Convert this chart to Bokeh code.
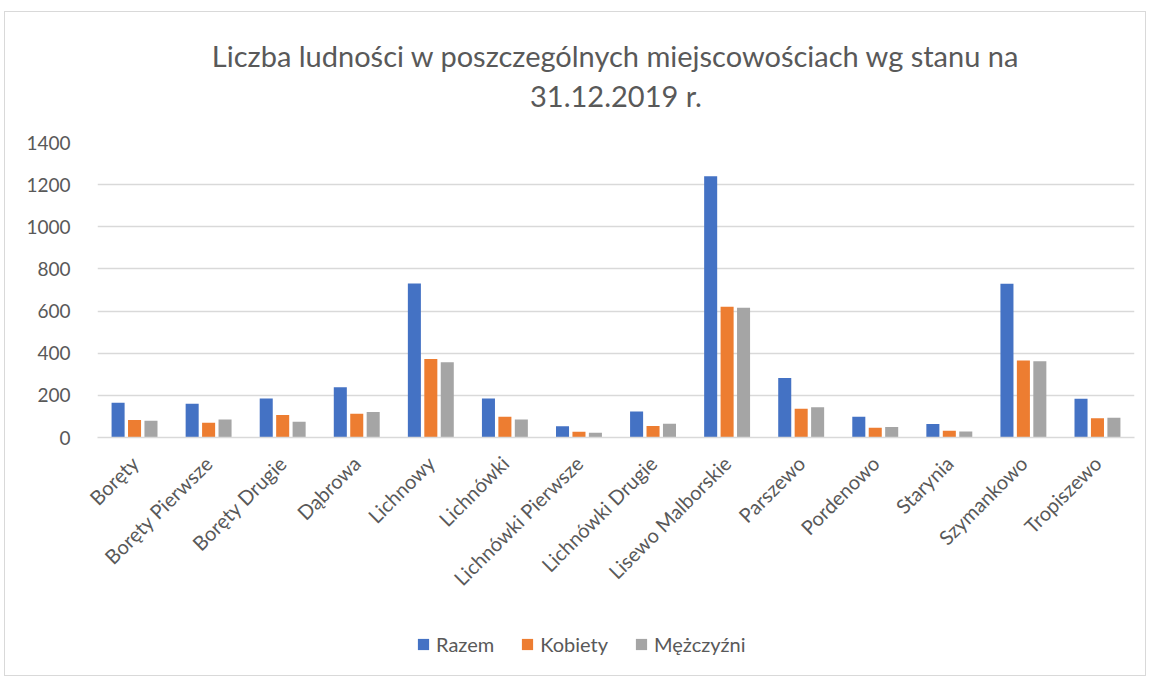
import math
from bokeh.plotting import figure
from bokeh.layouts import column
from bokeh.models import ColumnDataSource, FactorRange, Legend, LegendItem, Range1d, Title
from bokeh.transform import dodge
from bokeh.embed import file_html
from bokeh.resources import INLINE

places = ["Boręty", "Boręty Pierwsze", "Boręty Drugie", "Dąbrowa", "Lichnowy", "Lichnówki",
          "Lichnówki Pierwsze", "Lichnówki Drugie", "Lisewo Malborskie", "Parszewo",
          "Pordenowo", "Starynia", "Szymankowo", "Tropiszewo"]
razem = [165, 160, 185, 238, 731, 185, 53, 123, 1240, 282, 98, 64, 730, 184]
kobiety = [83, 70, 107, 113, 372, 98, 27, 54, 621, 137, 46, 32, 366, 91]
mezczyzni = [80, 85, 75, 121, 357, 85, 22, 65, 616, 144, 50, 29, 362, 94]
series_names = ["Razem", "Kobiety", "Mężczyźni"]
colors = ["#4472C4", "#ED7D31", "#A5A5A5"]
y_ticks = [0, 200, 400, 600, 800, 1000, 1200, 1400]
title_lines = ["Liczba ludności w poszczególnych miejscowościach wg stanu na", "31.12.2019 r."]

src = ColumnDataSource(dict(x=places, razem=razem, kobiety=kobiety, mezczyzni=mezczyzni))
cols = ["razem", "kobiety", "mezczyzni"]
offsets = [-0.222, 0.0, 0.222]

FONT = "Lato"
TXT = "#595959"

p = figure(x_range=FactorRange(*places, range_padding=0), y_range=Range1d(0, 1400),
           frame_width=1035, frame_height=293, output_backend="svg", toolbar_location=None,
           min_border_left=92, min_border_right=13, min_border_top=130, min_border_bottom=240)
p.styles = {"border": "1px solid #d9d9d9", "margin-left": "4px", "margin-top": "11px"}
p.outline_line_color = None

p.title.text = title_lines[0]
p.title.align = "center"
p.title.text_font = FONT
p.title.text_font_style = "normal"
p.title.text_font_size = "29px"
p.title.text_color = TXT
p.title.standoff = -53

t2 = Title(text=title_lines[1], align="center", text_font=FONT, text_font_style="normal",
           text_font_size="29px", text_color=TXT, standoff=59)
p.add_layout(t2, "above")

for col, off, c in zip(cols, offsets, colors):
    p.vbar(x=dodge("x", off, range=p.x_range), top=col, width=0.176, source=src,
           fill_color=c, line_color=None)

p.yaxis.ticker = y_ticks
p.yaxis.axis_line_color = None
p.yaxis.major_tick_line_color = None
p.yaxis.minor_tick_line_color = None
p.yaxis.major_label_text_font = FONT
p.yaxis.major_label_text_font_size = "19px"
p.yaxis.major_label_text_color = TXT
p.yaxis.major_label_standoff = 21

p.xaxis.axis_line_color = "#d9d9d9"
p.xaxis.axis_line_width = 1.5
p.xaxis.major_tick_line_color = None
p.xaxis.minor_tick_line_color = None
p.xaxis.major_label_orientation = math.pi / 4
p.xaxis.major_label_text_font = FONT
p.xaxis.major_label_text_font_size = "20px"
p.xaxis.major_label_text_color = TXT
p.xaxis.major_label_standoff = 16

p.xgrid.grid_line_color = None
p.ygrid.grid_line_color = "#d9d9d9"
p.ygrid.grid_line_width = 1.5

# legend strip: its y range lies far from the data, so only the legend shows
lg = figure(x_range=FactorRange(*places, range_padding=0), y_range=Range1d(5000, 6000),
            width=1142, height=40, output_backend="svg", toolbar_location=None,
            x_axis_location=None, y_axis_location=None, min_border=0)
lg.styles = {"margin-left": "4px", "margin-top": "-52px"}
lg.grid.visible = False
lg.outline_line_color = None
lg.background_fill_alpha = 0
lg.border_fill_alpha = 0
lr = []
for col, off, c in zip(cols, offsets, colors):
    lr.append(lg.vbar(x=dodge("x", off, range=lg.x_range), top=col, width=0.176, source=src,
                      fill_color=c, line_color=None))

legend = Legend(items=[LegendItem(label=n, renderers=[rr]) for n, rr in zip(series_names, lr)],
                orientation="horizontal", location=(320, 8))
legend.label_text_font = FONT
legend.label_text_font_size = "20px"
legend.label_text_color = TXT
legend.glyph_width = 14
legend.glyph_height = 14
legend.spacing = 26
legend.label_standoff = 6
legend.border_line_color = None
legend.background_fill_alpha = 0
legend.padding = 0
legend.margin = 0
lg.add_layout(legend, "center")

layout = column(p, lg, spacing=0)
open("out.html", "w").write(file_html(layout, INLINE))
